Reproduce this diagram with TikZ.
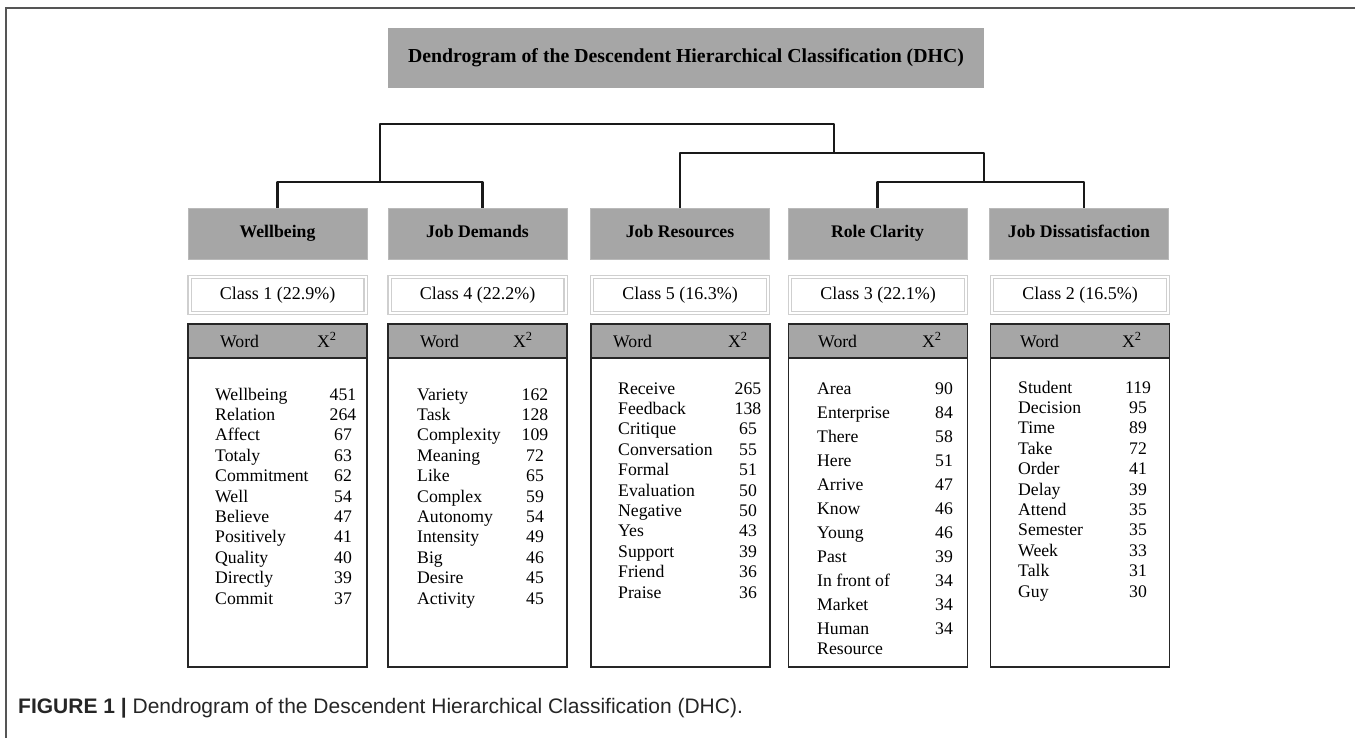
\documentclass[tikz,border=0pt]{standalone}
\usepackage{fontspec}
\setmainfont{Liberation Serif}
\newfontfamily\capfont{Liberation Sans}
\definecolor{hdrgray}{HTML}{A6A6A6}
\definecolor{framegray}{HTML}{555555}
\begin{document}
\begin{tikzpicture}[x=1pt,y=-1pt,
  titlebox/.style={fill=hdrgray, minimum width=596pt, minimum height=60pt, inner sep=0pt, text height=13.5pt, text depth=4.5pt, font=\bfseries\fontsize{19.8}{22}\selectfont},
  hdr/.style={fill=hdrgray, draw=gray!55, line width=0.6pt, minimum width=179pt, minimum height=51pt, inner sep=0pt, text height=12pt, text depth=4pt, font=\bfseries\fontsize{17.7}{20}\selectfont},
  cls/.style={draw=gray!38, double=white, double distance=2pt, line width=1.4pt, fill=white, minimum width=176pt, minimum height=36pt, inner sep=0pt, text height=12.5pt, text depth=4.5pt, font=\fontsize{18}{20}\selectfont},
  tbl/.style={draw=black!85, line width=1.7pt, minimum width=179pt, minimum height=343pt, inner sep=0pt},
  thd/.style={draw=black!85, line width=1.7pt, fill=hdrgray, minimum width=179pt, minimum height=34pt, inner sep=0pt},
  wd/.style={anchor=base west, inner sep=0pt, font=\fontsize{17.7}{20}\selectfont},
  num/.style={anchor=base, inner sep=0pt, font=\fontsize{17.7}{20}\selectfont},
  dline/.style={line width=2.8pt, black!90, line join=round}
]
\useasboundingbox (0,0) rectangle (1355,738);
% frame
\draw[framegray, line width=1.3pt] (6,738) -- (6,8) -- (1355,8);
% title
\node[titlebox] (title) at (686,58) {Dendrogram of the Descendent Hierarchical Classification (DHC)};
% headers
\node[hdr] (h1) at (277.5,233.5) {Wellbeing};
\node[hdr] (h2) at (477.5,233.5) {Job Demands};
\node[hdr] (h3) at (680,233.5) {Job Resources};
\node[hdr] (h4) at (877.5,233.5) {Role Clarity};
\node[hdr] (h5) at (1079,233.5) {Job Dissatisfaction};
% dendrogram
\coordinate (b12) at (380,182);
\coordinate (b45) at (984,182);
\coordinate (b345) at (834,153);
\coordinate (top) at (600,124);
\draw[dline] (h1.north) |- (b12) -| ([xshift=5pt]h2.north);
\draw[dline] (h4.north) |- (b45) -| ([xshift=5pt]h5.north);
\draw[dline] (h3.north) |- (b345) -| (b45);
\draw[dline] (b12) |- (top) -| (b345);
% class boxes
\node[cls] (k1) at (277.5,295) {Class 1 (22.9\%)};
\node[cls] (k2) at (477.5,295) {Class 4 (22.2\%)};
\node[cls] (k3) at (680,295) {Class 5 (16.3\%)};
\node[cls] (k4) at (878,295) {Class 3 (22.1\%)};
\node[cls] (k5) at (1080,295) {Class 2 (16.5\%)};
% tables
\node[tbl] (t1) at (277.5,495.5) {};
\node[tbl] (t2) at (477.5,495.5) {};
\node[tbl] (t3) at (680.5,495.5) {};
\node[tbl] (t4) at (878,495.5) {};
\node[tbl] (t5) at (1080,495.5) {};
\node[thd] (th1) at (277.5,341) {};
\node[thd] (th2) at (477.5,341) {};
\node[thd] (th3) at (680.5,341) {};
\node[thd] (th4) at (878,341) {};
\node[thd] (th5) at (1080,341) {};
\node[wd] (wh1) at (220,347) {Word};
\node[wd] (xh1) at (317,347) {X\textsuperscript{2}};
\node[wd] (wh2) at (420,347) {Word};
\node[wd] (xh2) at (513,347) {X\textsuperscript{2}};
\node[wd] (wh3) at (613,347) {Word};
\node[wd] (xh3) at (728,347) {X\textsuperscript{2}};
\node[wd] (wh4) at (818,347) {Word};
\node[wd] (xh4) at (922,347) {X\textsuperscript{2}};
\node[wd] (wh5) at (1020,347) {Word};
\node[wd] (xh5) at (1122,347) {X\textsuperscript{2}};
% column 1
\foreach \w/\n [count=\i from 0] in {Wellbeing/451, Relation/264, Affect/67, Totaly/63, Commitment/62, Well/54, Believe/47, Positively/41, Quality/40, Directly/39, Commit/37}
  {\node[wd] (c1w\i) at (215,{400+20.4*\i}) {\w};
   \node[num] (c1n\i) at (343,{400+20.4*\i}) {\n};}
% column 2
\foreach \w/\n [count=\i from 0] in {Variety/162, Task/128, Complexity/109, Meaning/72, Like/65, Complex/59, Autonomy/54, Intensity/49, Big/46, Desire/45, Activity/45}
  {\node[wd] (c2w\i) at (417,{400+20.4*\i}) {\w};
   \node[num] (c2n\i) at (535,{400+20.4*\i}) {\n};}
% column 3
\foreach \w/\n [count=\i from 0] in {Receive/265, Feedback/138, Critique/65, Conversation/55, Formal/51, Evaluation/50, Negative/50, Yes/43, Support/39, Friend/36, Praise/36}
  {\node[wd] (c3w\i) at (618,{394+20.4*\i}) {\w};
   \node[num] (c3n\i) at (748,{394+20.4*\i}) {\n};}
% column 4
\foreach \w/\n [count=\i from 0] in {Area/90, Enterprise/84, There/58, Here/51, Arrive/47, Know/46, Young/46, Past/39, In front of/34, Market/34}
  {\node[wd] (c4w\i) at (817,{394+24*\i}) {\w};
   \node[num] (c4n\i) at (944,{394+24*\i}) {\n};}
\node[wd] (c4w10) at (817,634) {Human};
\node[wd] (c4w10b) at (817,654) {Resource};
\node[num] (c4n10) at (944,634) {34};
% column 5
\foreach \w/\n [count=\i from 0] in {Student/119, Decision/95, Time/89, Take/72, Order/41, Delay/39, Attend/35, Semester/35, Week/33, Talk/31, Guy/30}
  {\node[wd] (c5w\i) at (1018,{393+20.4*\i}) {\w};
   \node[num] (c5n\i) at (1138,{393+20.4*\i}) {\n};}
% caption
\node[anchor=base west, inner sep=0pt, text=black!85, font=\capfont\fontsize{21}{24}\selectfont] (cap) at (18,713) {\textbf{FIGURE 1 |} Dendrogram of the Descendent Hierarchical Classification (DHC).};
\end{tikzpicture}
\end{document}
